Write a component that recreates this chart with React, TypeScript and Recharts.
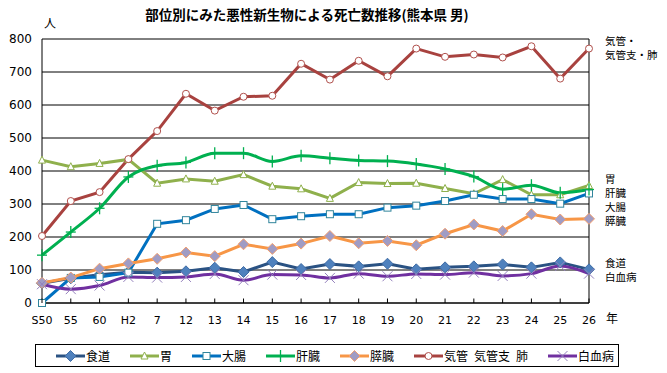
import React from "react";
import { LineChart, Line, XAxis, YAxis, CartesianGrid, ReferenceLine } from "recharts";

// 年次（昭和50年〜平成26年）
const years = ["S50", "55", "60", "H2", "7", "12", "13", "14", "15", "16", "17", "18", "19", "20", "21", "22", "23", "24", "25", "26"];

const esophagus = [60, 75, 86, 93, 92, 96, 107, 94, 124, 103, 118, 111, 119, 102, 108, 111, 117, 108, 123, 102];
const stomach = [433, 413, 423, 435, 363, 376, 369, 389, 354, 346, 317, 365, 362, 363, 347, 331, 374, 328, 328, 356];
const colon = [0, 76, 79, 92, 240, 251, 285, 297, 254, 263, 269, 269, 289, 295, 309, 328, 315, 315, 301, 332];
const liver = [145, 215, 287, 382, 416, 426, 454, 454, 429, 446, 439, 432, 430, 421, 406, 383, 345, 357, 334, 344];
const pancreas = [61, 77, 104, 120, 134, 153, 142, 178, 164, 180, 203, 181, 188, 175, 210, 238, 218, 269, 253, 255];
const lung = [203, 309, 336, 436, 521, 634, 583, 625, 628, 725, 677, 734, 687, 771, 746, 753, 744, 778, 680, 771];
const leukemia = [57, 42, 53, 79, 77, 79, 88, 69, 86, 85, 76, 89, 81, 88, 86, 92, 82, 89, 112, 89];

const yTicks = [0, 100, 200, 300, 400, 500, 600, 700, 800];

const JP = '"Noto Sans CJK JP", sans-serif';
const NUM = '"DejaVu Sans", sans-serif';

type Shape = "diamond" | "triangle" | "square" | "plus" | "diamond2" | "circle" | "cross";

function Marker({ shape, cx, cy }: { shape: Shape; cx: number; cy: number }) {
  switch (shape) {
    case "diamond": {
      const r = 5.5;
      return <polygon points={`${cx},${cy - r} ${cx + r},${cy} ${cx},${cy + r} ${cx - r},${cy}`} fill="#4F81BD" stroke="#3F6CA5" strokeWidth={1} />;
    }
    case "diamond2": {
      const r = 5.5;
      return <polygon points={`${cx},${cy - r} ${cx + r},${cy} ${cx},${cy + r} ${cx - r},${cy}`} fill="#A09CC4" stroke="#F4A070" strokeWidth={1} />;
    }
    case "triangle":
      return <polygon points={`${cx},${cy - 4} ${cx + 3.5},${cy + 3} ${cx - 3.5},${cy + 3}`} fill="#fff" stroke="#8FB04C" strokeWidth={1} />;
    case "square":
      return <rect x={cx - 3.5} y={cy - 3.5} width={7} height={7} fill="#fff" stroke="#31859C" strokeWidth={1} />;
    case "plus":
      return (
        <g stroke="#00B050" strokeWidth={1.3}>
          <line x1={cx} y1={cy - 6} x2={cx} y2={cy + 6} />
          <line x1={cx - 5} y1={cy} x2={cx + 5} y2={cy} />
        </g>
      );
    case "circle":
      return <circle cx={cx} cy={cy} r={3.5} fill="#fff" stroke="#B0504C" strokeWidth={1} />;
    case "cross":
      return (
        <g stroke="#9480BC" strokeWidth={1}>
          <line x1={cx - 5} y1={cy - 5} x2={cx + 5} y2={cy + 5} />
          <line x1={cx - 5} y1={cy + 5} x2={cx + 5} y2={cy - 5} />
        </g>
      );
  }
  return null;
}

const series: { name: string; legend: string; values: number[]; color: string; shape: Shape; smooth: boolean }[] = [
  { name: "食道", legend: "食道", values: esophagus, color: "#2A5283", shape: "diamond", smooth: false },
  { name: "胃", legend: "胃", values: stomach, color: "#8FB04C", shape: "triangle", smooth: false },
  { name: "大腸", legend: "大腸", values: colon, color: "#0070C0", shape: "square", smooth: false },
  { name: "肝臓", legend: "肝臓", values: liver, color: "#00B050", shape: "plus", smooth: true },
  { name: "膵臓", legend: "膵臓", values: pancreas, color: "#F79646", shape: "diamond2", smooth: false },
  { name: "肺", legend: "気管\u2002気管支\u2002肺", values: lung, color: "#A8423F", shape: "circle", smooth: false },
  { name: "白血病", legend: "白血病", values: leukemia, color: "#7030A0", shape: "cross", smooth: true },
];

const data = years.map((year, i) => {
  const row: Record<string, string | number> = { year };
  series.forEach((s) => (row[s.name] = s.values[i]));
  return row;
});

function XTick(props: any) {
  const { x, y, payload } = props;
  return (
    <g>
      <line x1={x} y1={y} x2={x} y2={y - 4.5} stroke="#000" />
      <text x={x} y={y + 21} textAnchor="middle" fontSize={11} fontFamily={NUM} fill="#000">
        {payload.value}
      </text>
    </g>
  );
}

const sideLabels = [
  { text: "気管・", top: 35 },
  { text: "気管支・肺", top: 49 },
  { text: "胃", top: 173 },
  { text: "肝臓", top: 187 },
  { text: "大腸", top: 201 },
  { text: "膵臓", top: 215 },
  { text: "食道", top: 257 },
  { text: "白血病", top: 271 },
];

export default function App() {
  return (
    <div style={{ position: "absolute", left: 0, top: 0, width: 667, height: 373, background: "#fff" }}>
      <div style={{ position: "absolute", left: 0, width: 614, top: 5, textAlign: "center", fontFamily: JP, fontWeight: 700, fontSize: 13.5, lineHeight: "18px" }}>
        部位別にみた悪性新生物による死亡数推移(熊本県 男)
      </div>
      <div style={{ position: "absolute", left: 44, top: 15, fontFamily: JP, fontSize: 12, lineHeight: "16px" }}>人</div>
      <LineChart width={667} height={373} data={data} margin={{ top: 39, right: 78, left: 0, bottom: 40 }}>
        <CartesianGrid vertical={false} stroke="#000" strokeWidth={1} />
        <XAxis
          dataKey="year"
          height={30}
          padding={{ left: 0, right: 0 }}
          axisLine={{ stroke: "#000" }}
          tickLine={false}
          tickSize={0}
          tickMargin={0}
          interval={0}
          tick={<XTick />}
        />
        <YAxis
          width={42}
          domain={[0, 800]}
          ticks={yTicks}
          axisLine={{ stroke: "#000" }}
          tickLine={false}
          tickSize={0}
          tickMargin={10}
          tick={{ fontSize: 12, fontFamily: NUM, fill: "#000" }}
        />
        <ReferenceLine x="26" stroke="#000" />
        {series.map((s) => (
          <Line
            key={s.name}
            dataKey={s.name}
            type={s.smooth ? "monotone" : "linear"}
            stroke={s.color}
            strokeWidth={3}
            isAnimationActive={false}
            dot={(p: any) => <Marker key={`${s.name}-${p.index}`} shape={s.shape} cx={p.cx} cy={p.cy} />}
            activeDot={false}
          />
        ))}
      </LineChart>
      <div style={{ position: "absolute", left: 606, top: 310, fontFamily: JP, fontSize: 12, lineHeight: "16px" }}>年</div>
      {sideLabels.map((l) => (
        <div key={l.text} style={{ position: "absolute", left: 605, top: l.top, fontFamily: JP, fontSize: 10.5, lineHeight: "12px" }}>
          {l.text}
        </div>
      ))}
      <div
        style={{
          position: "absolute",
          left: 35,
          top: 344,
          width: 584,
          height: 23,
          border: "1px solid #000",
          display: "flex",
          alignItems: "center",
          paddingLeft: 20,
          boxSizing: "border-box",
          gap: 20,
          fontFamily: JP,
          fontSize: 12,
        }}
      >
        {series.map((s) => (
          <div key={s.name} style={{ display: "flex", alignItems: "center" }}>
            <svg width={29} height={14}>
              <line x1={0} y1={7} x2={29} y2={7} stroke={s.color} strokeWidth={3} />
              <Marker shape={s.shape} cx={14.5} cy={7} />
            </svg>
            <span style={{ marginLeft: 1 }}>{s.legend}</span>
          </div>
        ))}
      </div>
    </div>
  );
}
